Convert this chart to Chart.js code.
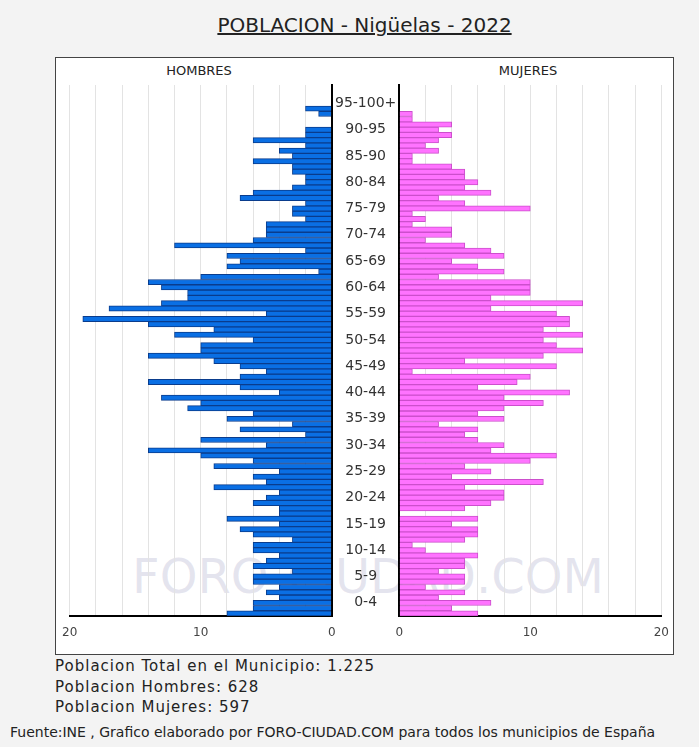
<!DOCTYPE html>
<html>
<head>
<meta charset="utf-8">
<script src="https://cdn.jsdelivr.net/npm/chart.js@4.4.1/dist/chart.umd.min.js"></script>
<style>
  body { margin: 0; background: #f3f3f3; font-family: "DejaVu Sans", Verdana, sans-serif; color: #222; }
  #page { position: relative; width: 699px; height: 747px; overflow: hidden; }
  .abs { position: absolute; white-space: nowrap; }
  #title { left: 55px; width: 619px; top: 13px; text-align: center; font-size: 20px; text-decoration: underline; }
  #frame { left: 55px; top: 57px; width: 617px; height: 596px; border: 1.5px solid #444; background: #fff; }
  .side { top: 63px; font-size: 13px; transform: translateX(-50%); }
  #mark { left: 368px; top: 548px; transform: translateX(-50%); font-size: 48px; color: rgba(160,160,195,0.28); }
  .info { left: 55px; font-size: 15px; letter-spacing: 1px; }
  #foot { left: 10px; top: 724px; font-size: 14px; }
  canvas { position: absolute; top: 80px; }
</style>
</head>
<body>
<div id="page">
  <div id="title" class="abs">POBLACION - Nigüelas - 2022</div>
  <div id="frame" class="abs"></div>
  <div class="abs side" style="left:199px">HOMBRES</div>
  <div class="abs side" style="left:528px">MUJERES</div>
  <div id="mark" class="abs">FORO-CIUDAD.COM</div>
  <canvas id="men" width="280" height="570" style="left:60px"></canvas>
  <canvas id="women" width="340" height="570" style="left:330px"></canvas>
  <div class="abs info" style="top:657px">Poblacion Total en el Municipio: 1.225</div>
  <div class="abs info" style="top:678px">Poblacion Hombres: 628</div>
  <div class="abs info" style="top:698px">Poblacion Mujeres: 597</div>
  <div id="foot" class="abs">Fuente:INE , Grafico elaborado por FORO-CIUDAD.COM para todos los municipios de España</div>
</div>
<script>
// one row per year of age, 0 .. 100
const ages = [];
for (let a = 0; a <= 100; a++) ages.push(String(a));

const groupLabels = ['0-4', '5-9', '10-14', '15-19', '20-24', '25-29', '30-34', '35-39',
  '40-44', '45-49', '50-54', '55-59', '60-64', '65-69', '70-74', '75-79',
  '80-84', '85-90', '90-95', '95-100+'];

const hombres = [
  8, 6, 6, 4, 5, 4, 6, 6, 3, 6,
  5, 4, 6, 6, 3, 6, 7, 4, 8, 4,
  4, 6, 5, 4, 9, 5, 6, 4, 9, 6,
  10, 14, 5, 10, 2, 7, 3, 8, 6, 11,
  10, 13, 4, 7, 14, 7, 5, 7, 9, 14,
  10, 10, 6, 12, 9, 14, 19, 5, 17, 13,
  11, 11, 13, 14, 10, 1, 8, 7, 8, 2,
  12, 6, 5, 5, 5, 2, 3, 3, 2, 7,
  6, 3, 2, 2, 3, 3, 6, 3, 4, 2,
  6, 2, 2, 0, 0, 1, 2, 0, 0, 0, 0
];

const mujeres = [
  6, 4, 7, 3, 5, 2, 5, 5, 3, 5,
  5, 6, 2, 1, 5, 6, 6, 4, 6, 0,
  5, 7, 8, 8, 5, 11, 4, 7, 5, 10,
  12, 7, 8, 6, 5, 6, 3, 8, 6, 8,
  11, 8, 13, 6, 9, 10, 1, 12, 5, 11,
  14, 12, 11, 14, 11, 13, 13, 12, 7, 14,
  7, 10, 10, 10, 3, 8, 6, 4, 8, 7,
  5, 2, 4, 4, 1, 2, 1, 10, 5, 3,
  7, 5, 6, 5, 5, 4, 1, 1, 3, 2,
  3, 4, 3, 4, 1, 1, 0, 0, 0, 0, 0
];

const xTicks = [0, 10, 20];

function noPad(scale) {
  scale.paddingTop = 0; scale.paddingBottom = 0;
  scale.paddingLeft = 0; scale.paddingRight = 0;
}

function xAxis(reverse) {
  return {
    type: 'linear', min: 0, max: 20, reverse: reverse,
    grid: { color: '#e3e3e3', lineWidth: 1, drawTicks: false },
    border: { color: '#000', width: 2 },
    ticks: {
      stepSize: 2, padding: 10, color: '#444',
      font: { family: 'DejaVu Sans', size: 12 },
      callback: v => xTicks.includes(v) ? String(v) : ''
    },
    afterFit: s => { noPad(s); s.height = 29; }
  };
}

function pyramid(id, data, fill, line, left) {
  return new Chart(document.getElementById(id), {
    type: 'bar',
    data: {
      labels: ages,
      datasets: [{
        data: data,
        backgroundColor: fill,
        borderColor: line,
        borderWidth: 1,
        barPercentage: 1,
        categoryPercentage: 1
      }]
    },
    options: {
      indexAxis: 'y',
      responsive: false,
      animation: false,
      layout: { padding: left ? { left: 9.7, right: 8.3, top: 5, bottom: 5 }
                               : { left: 3.3, right: 8.7, top: 5, bottom: 5 } },
      plugins: { legend: { display: false }, tooltip: { enabled: false } },
      scales: {
        x: xAxis(left),
        y: {
          type: 'category', reverse: true,
          position: left ? 'right' : 'left',
          grid: { display: false, drawTicks: false },
          border: { color: '#000', width: 2 },
          ticks: {
            display: !left, autoSkip: false, crossAlign: 'center', padding: 3,
            color: '#333', font: { family: 'DejaVu Sans', size: 14 },
            callback: (v, i) => i % 5 === 2 ? groupLabels[(i - 2) / 5] : ''
          },
          afterFit: s => { noPad(s); s.width = left ? 0 : 66; }
        }
      }
    }
  });
}

pyramid('men', hombres, '#0a6fe4', '#0a3c8c', true);
pyramid('women', mujeres, '#ff73ff', '#cc4fcc', false);
</script>
</body>
</html>
